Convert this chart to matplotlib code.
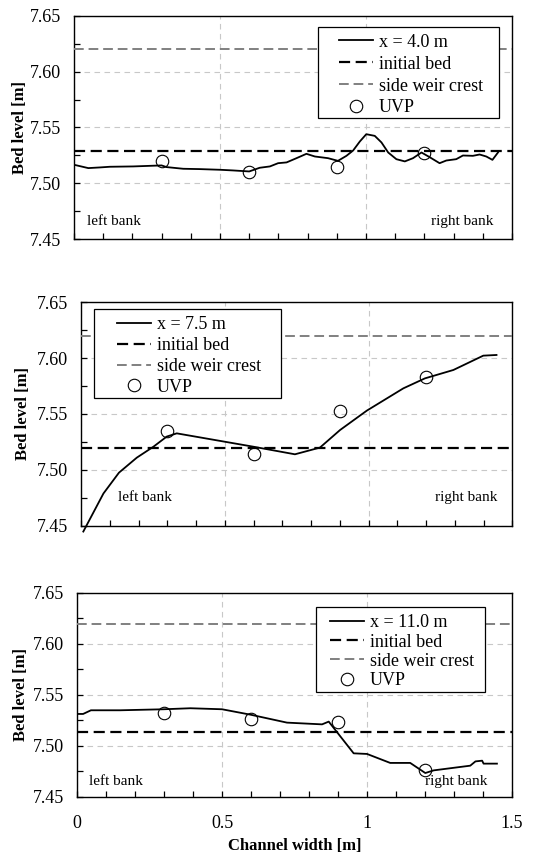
import numpy as np
import matplotlib
matplotlib.use("Agg")
import matplotlib.pyplot as plt
from matplotlib.patches import Rectangle
from matplotlib.ticker import MultipleLocator, FixedLocator

plt.rcParams['font.family'] = ['Liberation Serif', 'DejaVu Serif']

# cross sections: bed profiles across the channel
x1 = [0.000, 0.049, 0.089, 0.123, 0.203, 0.300, 0.317, 0.374, 0.431, 0.500, 0.545,
      0.600, 0.636, 0.671, 0.699, 0.728, 0.762, 0.796, 0.825, 0.870, 0.904, 0.933,
      0.956, 0.979, 1.001, 1.030, 1.053, 1.076, 1.104, 1.133, 1.161, 1.190, 1.218,
      1.252, 1.275, 1.309, 1.332, 1.366, 1.389, 1.412, 1.433, 1.452]
z1 = [7.5166, 7.5136, 7.5142, 7.5148, 7.5151, 7.5160, 7.5145, 7.5130, 7.5127, 7.5121,
      7.5115, 7.5106, 7.5139, 7.5151, 7.5180, 7.5187, 7.5225, 7.5264, 7.5240, 7.5225,
      7.5201, 7.5246, 7.5294, 7.5375, 7.5440, 7.5425, 7.5366, 7.5276, 7.5216, 7.5196,
      7.5225, 7.5276, 7.5234, 7.5180, 7.5204, 7.5216, 7.5249, 7.5246, 7.5258, 7.5240,
      7.5210, 7.5276]

x2 = [0.008, 0.078, 0.132, 0.194, 0.252, 0.298, 0.333, 0.599, 0.744, 0.831, 0.901,
      0.994, 1.121, 1.196, 1.295, 1.399, 1.445]
z2 = [7.445, 7.479, 7.4976, 7.511, 7.5208, 7.5298, 7.5327, 7.5208, 7.514, 7.520,
      7.5357, 7.553, 7.5729, 7.5818, 7.5893, 7.6021, 7.6027]

x3 = [0.000, 0.021, 0.048, 0.149, 0.299, 0.391, 0.500, 0.598, 0.724, 0.845, 0.868,
      0.954, 1.000, 1.080, 1.149, 1.201, 1.230, 1.356, 1.374, 1.397, 1.402, 1.448]
z3 = [7.5314, 7.5314, 7.5350, 7.5350, 7.5360, 7.5370, 7.5360, 7.5307, 7.5229, 7.5212,
      7.5239, 7.4928, 7.4922, 7.4834, 7.4834, 7.4735, 7.4761, 7.4807, 7.4849, 7.4856,
      7.4827, 7.4827]

uvp_x = [0.3, 0.6, 0.9, 1.2]
uvp1 = [7.520, 7.510, 7.515, 7.527]
uvp2 = [7.535, 7.514, 7.553, 7.583]
uvp3 = [7.532, 7.526, 7.524, 7.476]

labels = ["x = 4.0 m", "x = 7.5 m", "x = 11.0 m"]
initial_bed = [7.529, 7.520, 7.514]
weir_crest = 7.62

fig = plt.figure(figsize=(5.33, 8.58), dpi=100)
positions = [
    [0.1388, 0.7214, 0.8218, 0.2600],
    [0.1520, 0.3870, 0.8092, 0.2610],
    [0.1445, 0.0711, 0.8161, 0.2378],
]
label_x = [-0.105, -0.116, -0.111]
# legend frame (x0, y0, x1, y1) and text anchor, in axes fractions
legend_box = [(0.557, 0.543, 0.970, 0.951),
              (0.030, 0.571, 0.464, 0.969),
              (0.549, 0.515, 0.938, 0.931)]
legend_anchor = [(0.605, 0.920), (0.0835, 0.938), (0.582, 0.895)]
legend_spacing = [0.27, 0.22, 0.12]
bank_y = [7.466, 7.475, 7.465]
left_bank_x = [0.043, 0.13, 0.04]
right_bank_x = [1.435, 1.449, 1.416]

xs = [x1, x2, x3]
zs = [z1, z2, z3]
uvps = [uvp1, uvp2, uvp3]

for i in range(3):
    ax = fig.add_axes(positions[i])
    ax.set_xlim(0, 1.5)
    ax.set_ylim(7.45, 7.65)

    ax.grid(True, which='major', color='#c8c8c8', linestyle=(0, (5, 4)), linewidth=0.8)
    ax.set_axisbelow(True)

    ax.plot(xs[i], zs[i], color='black', linewidth=1.3, label=labels[i],
            clip_on=(i != 1), zorder=4)
    ax.axhline(initial_bed[i], color='black', linewidth=1.6, dashes=(5, 2.5),
               label='initial bed', zorder=3)
    ax.axhline(weir_crest, color='#808080', linewidth=1.4, dashes=(5, 2.5),
               label='side weir crest', zorder=3)
    ax.plot(uvp_x, uvps[i], linestyle='none', marker='o', markersize=9,
            markerfacecolor='none', markeredgecolor='black', markeredgewidth=0.8,
            label='UVP', zorder=5)

    ax.text(left_bank_x[i], bank_y[i], 'left bank', fontsize=11, va='center', ha='left')
    ax.text(right_bank_x[i], bank_y[i], 'right bank', fontsize=11, va='center', ha='right')

    ax.yaxis.set_major_locator(MultipleLocator(0.05))
    ax.yaxis.set_minor_locator(MultipleLocator(0.025))
    ax.xaxis.set_major_locator(FixedLocator([0, 0.5, 1.0, 1.5]))
    ax.xaxis.set_minor_locator(FixedLocator([0.1, 0.2, 0.3, 0.4, 0.6, 0.7, 0.8, 0.9,
                                             1.1, 1.2, 1.3, 1.4]))
    ax.tick_params(which='both', direction='in', length=4, width=0.9,
                   top=False, right=False, labelsize=13)
    ax.tick_params(axis='y', pad=9.5)
    ax.tick_params(axis='x', pad=13)
    ax.yaxis.set_major_formatter(plt.FuncFormatter(lambda v, p: f"{v:.2f}"))
    ax.xaxis.set_major_formatter(plt.FuncFormatter(lambda v, p: f"{v:g}"))
    if i < 2:
        ax.tick_params(axis='x', labelbottom=False)
    else:
        ax.set_xlabel('Channel width [m]', fontsize=12, fontweight='bold', labelpad=4)

    ax.set_ylabel('Bed level [m]', fontsize=12, fontweight='bold')
    ax.yaxis.set_label_coords(label_x[i], 0.5)

    for sp in ax.spines.values():
        sp.set_linewidth(1.0)
        sp.set_color('black')

    bx0, by0, bx1, by1 = legend_box[i]
    ax.add_patch(Rectangle((bx0, by0), bx1 - bx0, by1 - by0, transform=ax.transAxes,
                           facecolor='white', edgecolor='black', linewidth=0.9,
                           zorder=6))
    leg = ax.legend(loc='upper left', bbox_to_anchor=legend_anchor[i],
                    borderaxespad=0, borderpad=0, fontsize=13,
                    labelspacing=legend_spacing[i], handlelength=1.9,
                    handletextpad=0.3, frameon=False)
    leg.set_zorder(7)

fig.savefig('out.png', dpi=100)
